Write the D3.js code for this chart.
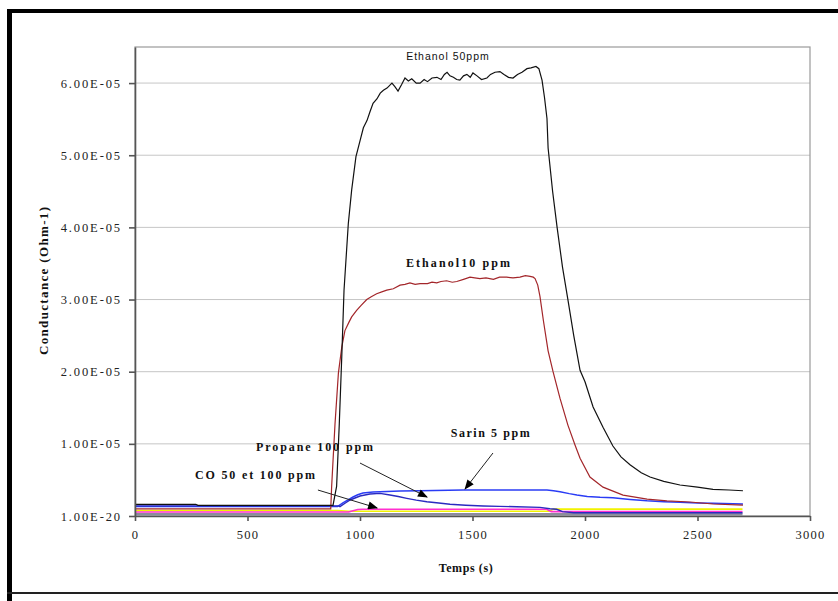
<!DOCTYPE html>
<html>
<head>
<meta charset="utf-8">
<script src="https://cdn.jsdelivr.net/npm/d3@7"></script>
<style>
  body { margin: 0; background: #fff; }
  svg { display: block; }
  .note { font-family: "Liberation Serif", "Times New Roman", serif; font-weight: bold; font-size: 12px; fill: #111; }
</style>
</head>
<body>
<svg id="chart" width="838" height="601"></svg>
<script>
// values, conductance in units of 1e-5 Ohm-1, time in s
var blackTime = [0, 270, 280, 880, 896, 908, 919, 929, 948, 963, 982, 1000, 1015, 1031, 1044, 1058, 1075, 1090, 1104, 1120, 1142, 1155, 1169, 1185, 1200, 1215, 1230, 1250, 1267, 1285, 1300, 1320, 1342, 1360, 1375, 1387, 1400, 1415, 1430, 1444, 1460, 1475, 1490, 1502, 1520, 1540, 1564, 1580, 1600, 1622, 1640, 1660, 1680, 1700, 1720, 1742, 1760, 1782, 1795, 1809, 1820, 1831, 1836, 1856, 1876, 1900, 1924, 1950, 1978, 2000, 2036, 2080, 2124, 2160, 2200, 2250, 2289, 2350, 2422, 2500, 2569, 2640, 2702];
var blackValue = [0.162, 0.162, 0.148, 0.148, 0.41, 1.28, 2.21, 3.13, 4.05, 4.52, 4.98, 5.20, 5.38, 5.48, 5.60, 5.72, 5.78, 5.86, 5.90, 5.93, 6.00, 5.95, 5.89, 5.98, 6.07, 6.03, 6.06, 6.00, 6.00, 6.05, 6.02, 6.07, 6.08, 6.05, 6.12, 6.15, 6.10, 6.08, 6.05, 6.04, 6.10, 6.12, 6.08, 6.14, 6.10, 6.05, 6.07, 6.12, 6.15, 6.16, 6.12, 6.08, 6.07, 6.12, 6.15, 6.20, 6.21, 6.23, 6.20, 6.04, 5.80, 5.51, 5.10, 4.50, 4.00, 3.45, 3.00, 2.50, 2.02, 1.86, 1.51, 1.23, 0.97, 0.82, 0.71, 0.60, 0.54, 0.48, 0.43, 0.40, 0.37, 0.36, 0.35];

var redTime = [0, 870, 874, 889, 904, 919, 933, 950, 963, 985, 1005, 1030, 1050, 1074, 1100, 1119, 1148, 1178, 1200, 1222, 1245, 1267, 1300, 1320, 1341, 1360, 1385, 1410, 1430, 1460, 1489, 1510, 1533, 1560, 1593, 1620, 1652, 1680, 1711, 1735, 1756, 1770, 1778, 1790, 1800, 1815, 1836, 1858, 1889, 1924, 1956, 1978, 2022, 2080, 2169, 2276, 2364, 2467, 2569, 2702];
var redValue = [0.10, 0.10, 0.41, 1.28, 1.98, 2.34, 2.57, 2.68, 2.76, 2.85, 2.92, 3.00, 3.04, 3.08, 3.11, 3.13, 3.15, 3.20, 3.21, 3.23, 3.21, 3.22, 3.22, 3.24, 3.23, 3.25, 3.26, 3.24, 3.25, 3.28, 3.31, 3.30, 3.29, 3.30, 3.28, 3.31, 3.31, 3.30, 3.31, 3.33, 3.32, 3.31, 3.29, 3.20, 3.04, 2.71, 2.29, 2.00, 1.63, 1.26, 0.98, 0.80, 0.54, 0.40, 0.29, 0.235, 0.21, 0.194, 0.166, 0.15];

var sarinTime = [0, 900, 924, 945, 969, 990, 1013, 1058, 1120, 1178, 1267, 1458, 1831, 1860, 1889, 1930, 1964, 2010, 2067, 2124, 2200, 2276, 2350, 2422, 2500, 2569, 2702];
var sarinValue = [0.13, 0.13, 0.181, 0.22, 0.263, 0.295, 0.319, 0.332, 0.340, 0.346, 0.350, 0.36, 0.36, 0.35, 0.337, 0.31, 0.291, 0.27, 0.259, 0.252, 0.23, 0.21, 0.197, 0.189, 0.18, 0.175, 0.166];

var propaneTime = [0, 905, 911, 935, 956, 1000, 1044, 1089, 1133, 1170, 1208, 1250, 1297, 1350, 1400, 1470, 1548, 1620, 1696, 1800, 1844, 1874, 1900, 1950, 2700];
var propaneValue = [0.14, 0.14, 0.129, 0.18, 0.222, 0.277, 0.305, 0.314, 0.291, 0.27, 0.245, 0.22, 0.198, 0.18, 0.162, 0.15, 0.139, 0.133, 0.129, 0.12, 0.10, 0.093, 0.06, 0.045, 0.045];

var coMagentaTime = [0, 950, 965, 990, 1010, 1830, 1850, 2700];
var coMagentaValue = [0.055, 0.055, 0.07, 0.09, 0.093, 0.093, 0.06, 0.06];

var coYellowTime = [0, 900, 950, 1840, 1860, 2700];
var coYellowValue = [0.076, 0.076, 0.065, 0.065, 0.095, 0.095];

var greyTime = [0, 2700];
var greyValue = [0.025, 0.025];

var xTicks = [0, 500, 1000, 1500, 2000, 2500, 3000];
var yTicks = [0, 1, 2, 3, 4, 5, 6];

var series = [
  { name: "grey", time: greyTime, value: greyValue, color: "#8c8c9c", width: 2.5 },
  { name: "co yellow", time: coYellowTime, value: coYellowValue, color: "#f2f200", width: 1.6 },
  { name: "co magenta", time: coMagentaTime, value: coMagentaValue, color: "#ff30d0", width: 1.6 },
  { name: "sarin", time: sarinTime, value: sarinValue, color: "#2a3cf5", width: 1.5 },
  { name: "propane", time: propaneTime, value: propaneValue, color: "#2a2ac0", width: 1.4 },
  { name: "ethanol 10", time: redTime, value: redValue, color: "#a3262a", width: 1.2 },
  { name: "ethanol 50", time: blackTime, value: blackValue, color: "#111", width: 1.2 }
];

var margin = { top: 47, left: 135 },
    width = 675,
    height = 469;

var svg = d3.select("#chart");

// outer frame
svg.append("rect").attr("x", 7).attr("y", 9).attr("width", 5).attr("height", 600).attr("fill", "#000");
svg.append("rect").attr("x", 7).attr("y", 9).attr("width", 840).attr("height", 4).attr("fill", "#000");
svg.append("rect").attr("x", 7).attr("y", 592).attr("width", 840).attr("height", 2).attr("fill", "#222");

var g = svg.append("g")
  .attr("transform", "translate(" + margin.left + "," + margin.top + ")");

var x = d3.scaleLinear().domain([0, 3000]).range([0, width]);
var y = d3.scaleLinear().domain([0, 6.5]).range([height, 0]);

// gridlines
g.selectAll(".grid")
  .data(yTicks.slice(1))
  .enter()
  .append("line")
  .attr("class", "grid")
  .attr("x1", 0).attr("x2", width)
  .attr("y1", function(d) { return y(d); })
  .attr("y2", function(d) { return y(d); })
  .attr("stroke", "#c6c6c6")
  .attr("stroke-width", 1);

// plot box
g.append("rect")
  .attr("width", width).attr("height", height)
  .attr("fill", "none").attr("stroke", "#9a9a9a").attr("stroke-width", 1.2);

var line = d3.line()
  .x(function(d) { return x(d[0]); })
  .y(function(d) { return y(d[1]); });

series.forEach(function(s) {
  g.append("path")
    .datum(d3.zip(s.time, s.value))
    .attr("fill", "none")
    .attr("stroke", s.color)
    .attr("stroke-width", s.width)
    .attr("d", line);
});

function styleAxis(spacing) {
  return function(sel) {
    sel.selectAll("path, line").attr("stroke", "#555").attr("stroke-width", 1.6);
    sel.selectAll("text")
      .attr("font-family", "'Liberation Serif', 'Times New Roman', serif")
      .attr("font-size", 12.5)
      .attr("fill", "#222")
      .style("letter-spacing", spacing);
  };
}

var xAxis = d3.axisBottom(x).tickValues(xTicks).tickSize(5).tickSizeOuter(0).tickPadding(9)
  .tickFormat(function(d) { return String(d); });
g.append("g")
  .attr("transform", "translate(0," + height + ")")
  .call(xAxis)
  .call(styleAxis("1.3px"));

var yAxis = d3.axisLeft(y).tickValues(yTicks).tickSize(6).tickSizeOuter(0).tickPadding(7)
  .tickFormat(function(d) { return d === 0 ? "1.00E-20" : d.toFixed(2) + "E-05"; });
g.append("g")
  .call(yAxis)
  .call(styleAxis("1.9px"));

// axis titles
svg.append("text")
  .attr("class", "note")
  .attr("x", 466).attr("y", 572)
  .attr("text-anchor", "middle")
  .style("letter-spacing", "0.6px")
  .text("Temps (s)");

svg.append("text")
  .attr("class", "note")
  .attr("transform", "translate(48,281) rotate(-90)")
  .attr("text-anchor", "middle")
  .attr("textLength", 148)
  .attr("lengthAdjust", "spacing")
  .style("font-size", "13px")
  .text("Conductance (Ohm-1)");

// annotations, positioned in data units
var notes = [
  { text: "Ethanol 50ppm", t: 1391, v: 6.316, anchor: "middle", sans: true },
  { text: "Ethanol10 ppm", t: 1204, v: 3.453, anchor: "start", len: 104 },
  { text: "Sarin 5 ppm", t: 1403, v: 1.098, anchor: "start", len: 79 },
  { text: "Propane 100 ppm", t: 538, v: 0.904, anchor: "start", len: 117 },
  { text: "CO 50 et 100 ppm", t: 267, v: 0.508, anchor: "start", len: 120 }
];

notes.forEach(function(n) {
  var t = g.append("text")
    .attr("x", x(n.t)).attr("y", y(n.v))
    .attr("text-anchor", n.anchor)
    .text(n.text);
  if (n.sans) {
    t.attr("font-family", "'Liberation Sans', Arial, sans-serif")
     .attr("font-size", 10.5).attr("fill", "#111")
     .style("letter-spacing", "1px");
  } else {
    t.attr("class", "note")
     .attr("textLength", n.len)
     .attr("lengthAdjust", "spacing");
  }
});

svg.append("defs").append("marker")
  .attr("id", "arrow")
  .attr("viewBox", "0 0 10 8")
  .attr("refX", 9).attr("refY", 4)
  .attr("markerWidth", 11).attr("markerHeight", 8)
  .attr("markerUnits", "userSpaceOnUse")
  .attr("orient", "auto")
  .append("path")
  .attr("d", "M0,0 L10,4 L0,8 Z")
  .attr("fill", "#000");

var arrows = [
  { t1: 1591, v1: 0.873, t2: 1467, v2: 0.374 },
  { t1: 1000, v1: 0.734, t2: 1298, v2: 0.263 },
  { t1: 813, v1: 0.36, t2: 1076, v2: 0.111 }
];

g.selectAll(".arrow")
  .data(arrows)
  .enter()
  .append("line")
  .attr("class", "arrow")
  .attr("x1", function(d) { return x(d.t1); })
  .attr("y1", function(d) { return y(d.v1); })
  .attr("x2", function(d) { return x(d.t2); })
  .attr("y2", function(d) { return y(d.v2); })
  .attr("stroke", "#222")
  .attr("stroke-width", 1)
  .attr("marker-end", "url(#arrow)");
</script>
</body>
</html>
